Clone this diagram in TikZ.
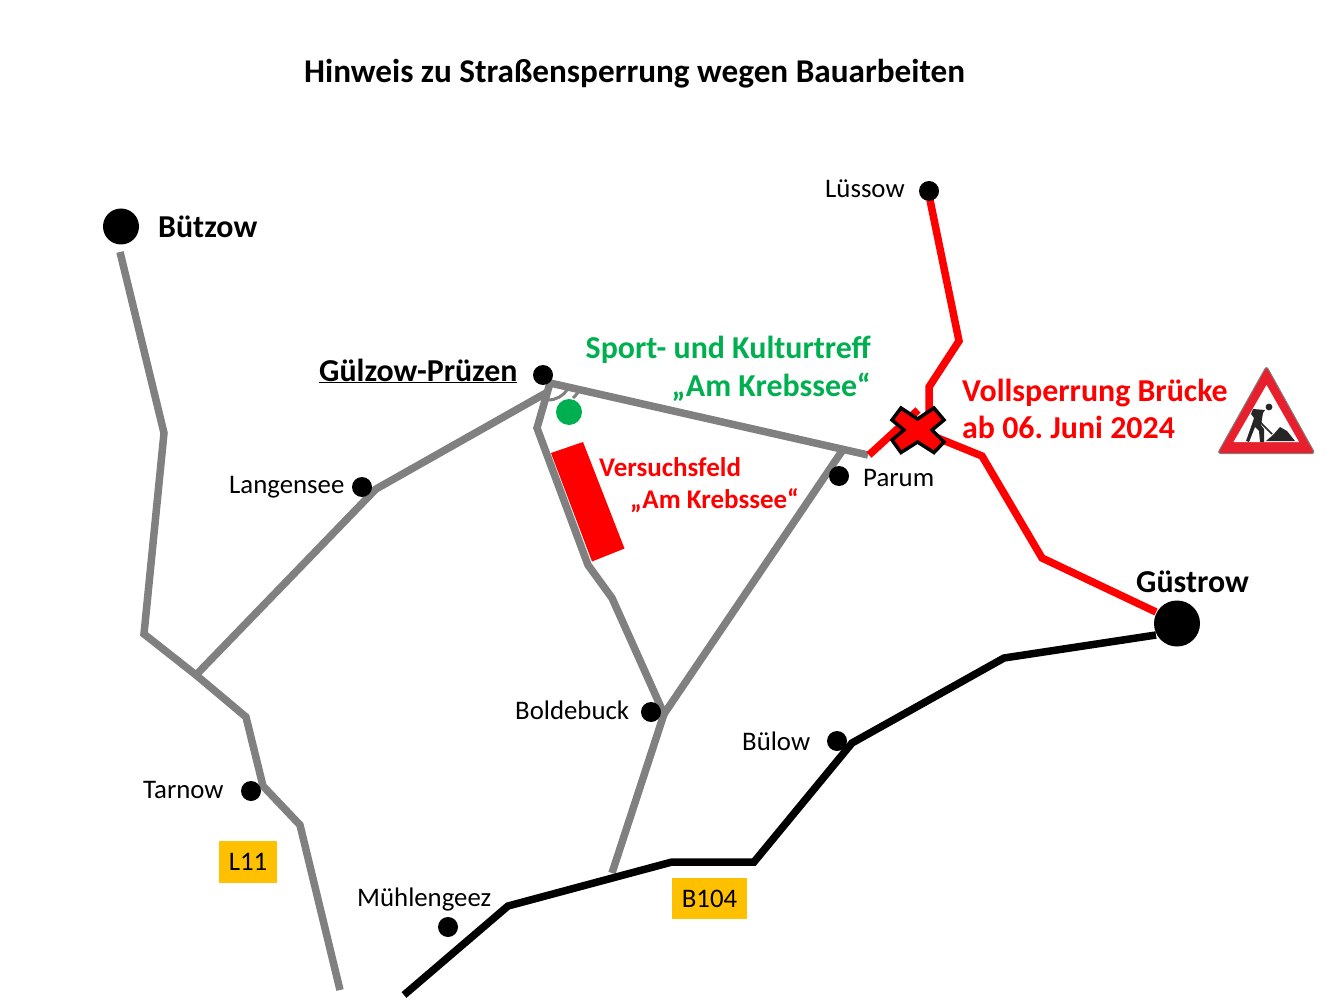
\documentclass[tikz,border=0pt]{standalone}
\usepackage{fontspec}
\setmainfont{Carlito}
\frenchspacing
\definecolor{roadgray}{HTML}{808080}
\definecolor{signred}{HTML}{E8202E}
\definecolor{sportgreen}{HTML}{00B050}
\definecolor{roadyellow}{HTML}{FFC000}
\definecolor{pure}{HTML}{FF0000}
\tikzset{
  road/.style={line width=7.5pt,line join=miter,miter limit=3},
  grayroad/.style={road,draw=roadgray},
  blackroad/.style={road,draw=black},
  redroad/.style={road,draw=pure},
  place/.style={circle,fill=black,inner sep=0pt,minimum size=#1},
  lab/.style={anchor=base west,inner sep=0pt,font=\fontsize{26.8}{32}\selectfont},
  blab/.style={anchor=base west,inner sep=0pt,font=\fontsize{31.9}{38}\selectfont\bfseries},
  rlab/.style={anchor=base west,inner sep=0pt,text=pure,font=\fontsize{27}{32}\selectfont\bfseries},
  tag/.style={fill=roadyellow,inner sep=0pt,font=\fontsize{26.8}{32}\selectfont,anchor=center}
}
\begin{document}
\begin{tikzpicture}[x=1pt,y=-1pt]
\useasboundingbox (0,0) rectangle (1344,1008);
\fill[white] (0,0) rectangle (1344,1008);

% coordinates
\coordinate (b0) at (120,252);
\coordinate (b1) at (164,433);
\coordinate (b2) at (144,634);
\coordinate (b3) at (196,675);
\coordinate (b4) at (246,717);
\coordinate (b5) at (263,786);
\coordinate (b6) at (300,825);
\coordinate (b7) at (340,990);
\coordinate (l1) at (376,489);
\coordinate (l2) at (546,393);
\coordinate (g0) at (550,383);
\coordinate (g1) at (868,455);
\coordinate (g2) at (537,428);
\coordinate (g3) at (588,565);
\coordinate (g4) at (612,598);
\coordinate (g5) at (664,714);
\coordinate (g6) at (612,873);
\coordinate (p1) at (842,451);
\coordinate (k0) at (404,995);
\coordinate (k1) at (508,906);
\coordinate (k2) at (672,862);
\coordinate (k3) at (754,862);
\coordinate (k4) at (852,743);
\coordinate (k5) at (1004,658);
\coordinate (k6) at (1156,635);
\coordinate (r0) at (930,200);
\coordinate (r1) at (959,341);
\coordinate (r2) at (929,387);
\coordinate (r3) at (929,425);
\coordinate (r4) at (869,455);
\coordinate (r5) at (918,410);
\coordinate (r6) at (918,430);
\coordinate (r7) at (982,456);
\coordinate (r8) at (1042,558);
\coordinate (r9) at (1156,612);

% red field
\fill[pure] (551,453) -- (583,442) -- (624.5,548.5) -- (592,561.5) -- cycle;

% gray roads
\draw[grayroad] (b0) -- (b1) -- (b2) -- (b3) -- (b4) -- (b5) -- (b6) -- (b7);
\draw[grayroad] (b3) -- (l1) -- (l2);
\draw[grayroad] (g1) -- (g0) -- (g2) -- (g3) -- (g4) -- (g5) -- (g6);
\draw[grayroad] (g5) -- (p1);
\draw[roadgray,line width=3pt] (548,400) .. controls (556,400) and (563,396) .. (567,390);
\draw[roadgray,line width=3pt] (573,398) .. controls (575,396) and (577,394) .. (579,391);

% black road
\draw[blackroad] (k0) -- (k1) -- (k2) -- (k3) -- (k4) -- (k5) -- (k6);

% red roads
\draw[redroad] (r0) -- (r1) -- (r2) -- (r3);
\draw[redroad] (r4) -- (r5);
\draw[redroad] (r6) -- (r7) -- (r8) -- (r9);

% cross
\filldraw[fill=pure,draw=black,line width=3.5pt,line join=miter]
 (901,408) -- (917.5,419) -- (934,408) -- (944,420) -- (932,430)
 -- (944,442) -- (934,452.5) -- (917.5,442) -- (901,452.5) -- (892,440)
 -- (904,430) -- (892,420) -- cycle;

% places
\node[place=36pt] (buetzow) at (121,226.5) {};
\node[place=46pt] (guestrow) at (1177,623.5) {};
\node[place=20pt] (luessow) at (929,191) {};
\node[place=20pt] (guelzow) at (543,375) {};
\node[place=20pt] (langensee) at (362,487) {};
\node[place=20pt] (parum) at (839,476) {};
\node[place=20pt] (boldebuck) at (651,712) {};
\node[place=20pt] (buelow) at (837,741) {};
\node[place=20pt] (tarnow) at (251,791) {};
\node[place=20pt] (muehlengeez) at (448,927) {};
\node[circle,fill=sportgreen,inner sep=0pt,minimum size=26pt] (sport) at (569,412) {};

% tags
\node[tag,minimum width=58pt,minimum height=42pt] (l11) at (248,862) {\raisebox{-0.5pt}{L11}};
\node[tag,minimum width=75pt,minimum height=41pt] (b104) at (709.5,898.5) {B104};

% labels
\node[blab,font=\fontsize{33.2}{38}\selectfont\bfseries] (title) at (304,83) {Hinweis zu Straßensperrung wegen Bauarbeiten};
\node[blab] (tb) at (158,238) {Bützow};
\node[blab] (tgs) at (1136,592) {Güstrow};
\node[blab] (tgp) at (319,381) {\underline{Gülzow-Prüzen}};
\node[lab] (tlu) at (825,198) {Lüssow};
\node[lab] (tla) at (229,493) {Langensee};
\node[lab] (tpa) at (863,486) {Parum};
\node[lab] (tbo) at (515,719) {Boldebuck};
\node[lab] (tbu) at (742,750) {Bülow};
\node[lab] (tta) at (143,798) {Tarnow};
\node[lab] (tmu) at (357,906) {Mühlengeez};
\node[blab,text=sportgreen,anchor=base east] (ts1) at (871,358) {Sport- und Kulturtreff};
\node[blab,text=sportgreen,anchor=base east] (ts2) at (871,396) {„Am Krebssee“};
\node[blab,text=pure] (tv1) at (962,401) {Vollsperrung Brücke};
\node[blab,text=pure] (tv2) at (962,438) {ab 06. Juni 2024};
\node[rlab] (tf1) at (599,476) {Versuchsfeld};
\node[rlab] (tf2) at (630,508) {„Am Krebssee“};

% road-works sign
\filldraw[fill=signred,draw=gray,line width=1pt,line join=round,rounded corners=3pt]
 (1266.5,366) -- (1315,453.5) -- (1217.5,453.5) -- cycle;
\fill[white] (1266.5,385) -- (1299,442) -- (1233.5,442) -- cycle;
\fill[black!85] (1269,407) circle[radius=3.4];
\fill[black!85] (1253,409) -- (1265,410) -- (1263,413) -- (1261,425) -- (1264,429) -- (1264,442)
 -- (1260,442) -- (1259,431) -- (1255,427) -- (1249,442) -- (1246,441) -- (1252,424)
 -- (1254,418) -- (1251,414) -- cycle;
\draw[black!85,line width=1.5pt] (1256,415) -- (1262,424) -- (1272,434);
\fill[black!85] (1266,441) -- (1273,435) -- (1280,427) -- (1287,431) -- (1295,441) -- cycle;
\end{tikzpicture}
\end{document}
